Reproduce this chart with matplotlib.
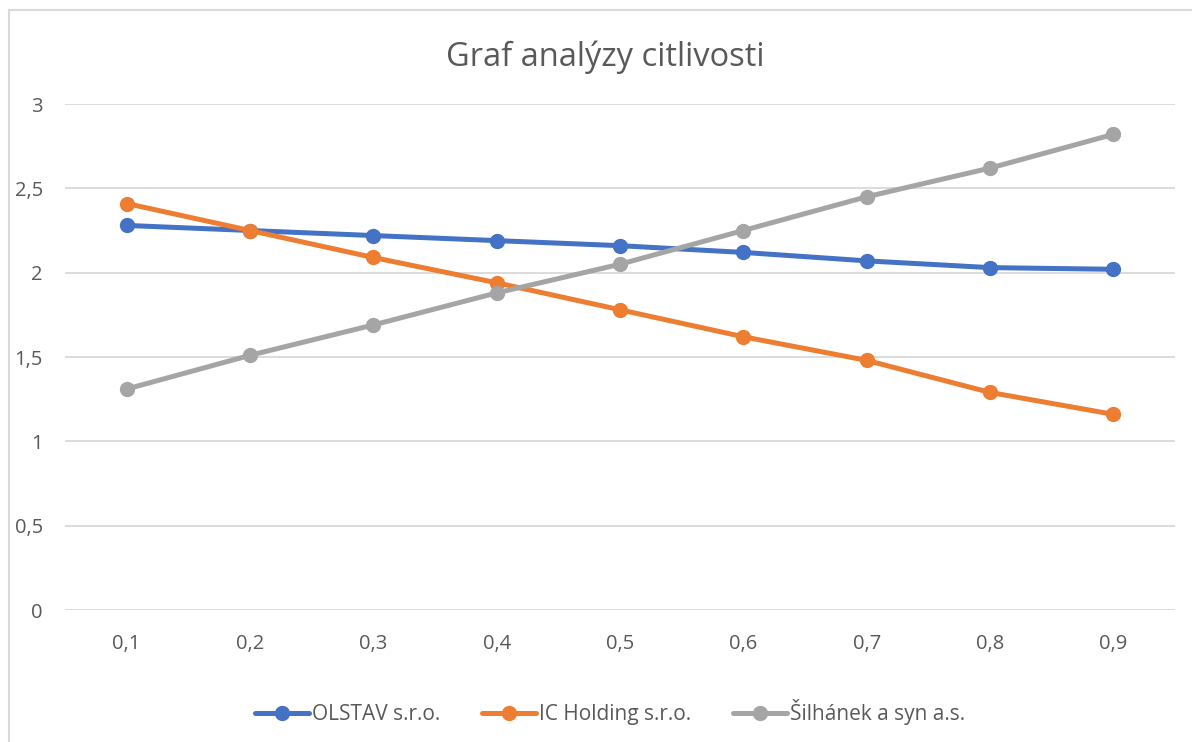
import numpy as np
import matplotlib.pyplot as plt
from matplotlib.lines import Line2D

plt.rcParams['font.family'] = ['Open Sans', 'DejaVu Sans']

categories = ["0,1", "0,2", "0,3", "0,4", "0,5", "0,6", "0,7", "0,8", "0,9"]
olstav = [2.28, 2.25, 2.22, 2.19, 2.16, 2.12, 2.07, 2.03, 2.02]
ic_holding = [2.41, 2.25, 2.09, 1.94, 1.78, 1.62, 1.48, 1.29, 1.16]
silhanek = [1.31, 1.51, 1.69, 1.88, 2.05, 2.25, 2.45, 2.62, 2.82]
series_names = ["OLSTAV s.r.o.", "IC Holding s.r.o.", "Šilhánek a syn a.s."]
colors = ["#4472C4", "#ED7D31", "#A5A5A5"]

W, H = 1192, 742
fig = plt.figure(figsize=(W / 100, H / 100), dpi=100)
ax = fig.add_axes([65 / W, 1 - 610 / H, (1175 - 65) / W, (610 - 104) / H])

x = np.arange(len(categories))
for vals, name, c in zip([olstav, ic_holding, silhanek], series_names, colors):
    ax.plot(x, vals, color=c, lw=3.6, marker='o', ms=10, label=name,
            solid_capstyle='round')

ax.set_xlim(-0.5, len(categories) - 0.5)
ax.set_ylim(0, 3)
ax.set_yticks(np.arange(0, 3.01, 0.5))
ax.set_yticklabels(["0", "0,5", "1", "1,5", "2", "2,5", "3"])
ax.set_xticks(x)
ax.set_xticklabels(categories)
ax.tick_params(length=0, labelsize=14.5, colors="#595959")
ax.tick_params(axis='x', pad=17)
ax.tick_params(axis='y', pad=16)
ax.grid(axis='y', color="#D9D9D9", lw=1.3)
ax.set_axisbelow(True)
for s in ax.spines.values():
    s.set_visible(False)

fig.text(605 / W, 1 - 57 / H, "Graf analýzy citlivosti", ha='center',
         va='center', fontsize=23.5, color="#595959")

fig.legend(loc='center', bbox_to_anchor=(610 / W, 1 - 712 / H), ncol=3,
           frameon=False, fontsize=15, labelcolor="#595959",
           handlelength=2.6, handletextpad=0.15, columnspacing=2.0)

# chart border (left and top edges visible)
fig.add_artist(Line2D([8.5 / W, 8.5 / W], [0, 1 - 10 / H], color="#D9D9D9", lw=1.5))
fig.add_artist(Line2D([8.5 / W, 1], [1 - 10 / H, 1 - 10 / H], color="#D9D9D9", lw=1.5))

fig.savefig("out.png", dpi=100)
